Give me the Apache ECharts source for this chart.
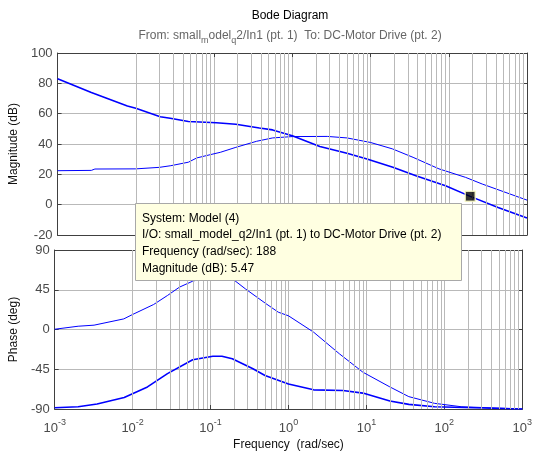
<!DOCTYPE html>
<html>
<head>
<meta charset="utf-8">
<script src="https://cdn.jsdelivr.net/npm/echarts@6/dist/echarts.min.js"></script>
<style>html,body{margin:0;padding:0;background:#fff;}#c{width:535px;height:454px;}</style>
</head>
<body>
<div id="c"></div>
<script>
// ---- data ----
const magFreqA = [0.001,0.0027,0.0078,0.01,0.0205,0.0275,0.047,0.107,0.11,0.19,0.38,0.56,1.0,2.25,5,9,19.3,38,91,188,427,1000];
const magValsA = [83,74,65,63.6,58,57,54.8,54,53.2,53,50.6,49.3,45.5,38.3,33.9,30.1,24.6,19.1,12.5,5.47,-1.8,-8.8];

const magFreqB = [0.001,0.0027,0.003,0.01,0.02,0.028,0.047,0.06,0.09,0.12,0.19,0.35,0.56,1.0,2.8,5,10,19,35,75,164,268,1000];
const magValsB = [22.4,22.6,23.5,23.6,24.6,25.7,28,30.8,33,34.5,37.8,41.8,44,44.9,45,44,41,36.8,31.2,23.6,18,13.6,3];

const phFreqA = [0.001,0.002,0.0032,0.0077,0.01,0.0186,0.028,0.04,0.059,0.1,0.2,0.28,0.5,0.74,1.0,2.1,4.5,9,20,35,75,164,1000];
const phValsA = [0.3,3.7,4.9,12,17,28.3,38.5,48,54.7,60,56,46,30,19.6,15.5,-3,-27.5,-48.3,-65,-76,-83.6,-87.4,-90];

const phFreqB = [0.001,0.002,0.0035,0.0078,0.0155,0.028,0.059,0.107,0.14,0.19,0.35,0.5,1.0,2.1,5,9,20,35,75,1000];
const phValsB = [-88.6,-87.4,-84.4,-76.9,-65,-50,-34.3,-30.2,-30.2,-33.2,-44.5,-52,-61.6,-68.3,-69,-72,-81,-84.8,-87.4,-90];

const markerFreq = [188];
const markerMag = [5.47];

const magTicks = [-20, 0, 20, 40, 60, 80, 100];
const phaseTicks = [-90, -45, 0, 45, 90];
const decades = [-3, -2, -1, 0, 1, 2, 3];

const titleText = 'Bode Diagram';
const subtitleText = 'From: small{sub|m}odel{sub|q}2/In1 (pt. 1)  To: DC-Motor Drive (pt. 2)';
const tipLines = ['System: Model (4)', 'I/O: small_model_q2/In1 (pt. 1) to DC-Motor Drive (pt. 2)', 'Frequency (rad/sec): 188', 'Magnitude (dB): 5.47'];

// ---- build ----
const zip = (a, b) => a.map((v, i) => [v, b[i]]);
const minorFreqs = [];
for (let n = decades[0]; n < decades[decades.length - 1]; n++) {
  for (let k = 2; k <= 9; k++) minorFreqs.push(k * Math.pow(10, n));
}
const GRID = '#b9b9b9';
const FRAME = '#404040';
const TICKC = '#4a4a4a';
const FONT = 'Liberation Sans, Arial, sans-serif';

function xAx(gi, pos, showLabel) {
  return {
    type: 'log', logBase: 10, gridIndex: gi, position: pos,
    min: Math.pow(10, decades[0]), max: Math.pow(10, decades[decades.length - 1]),
    axisLine: {show: true, onZero: false, lineStyle: {color: FRAME, width: 1}},
    axisTick: {show: true, inside: true, length: 4, lineStyle: {color: FRAME}},
    splitLine: {show: pos === 'bottom', lineStyle: {color: GRID, width: 1}},
    minorTick: {show: false},
    axisLabel: {
      show: showLabel, color: TICKC, margin: 6,
      formatter: v => '{b|10}{s|' + Math.round(Math.log10(v)) + '}',
      rich: {
        b: {fontSize: 13, fontFamily: FONT, color: TICKC, padding: [7, 0, 0, 0]},
        s: {fontSize: 9, fontFamily: FONT, color: TICKC, padding: [0, 0, 5, 0]}
      }
    },
    name: showLabel ? 'Frequency  (rad/sec)' : '',
    nameLocation: 'middle', nameGap: 30,
    nameTextStyle: {color: '#111', fontSize: 12, fontFamily: FONT}
  };
}
function yAx(gi, pos, ticks, interval, name) {
  return {
    type: 'value', gridIndex: gi, position: pos,
    min: ticks[0], max: ticks[ticks.length - 1], interval: interval,
    axisLine: {show: true, onZero: false, lineStyle: {color: FRAME, width: 1}},
    axisTick: {show: true, inside: true, length: 4, lineStyle: {color: FRAME}},
    splitLine: {show: pos === 'left', lineStyle: {color: GRID, width: 1}},
    axisLabel: {show: pos === 'left', color: TICKC, fontSize: 13, fontFamily: FONT, margin: 5},
    name: pos === 'left' ? name : '',
    nameLocation: 'middle', nameGap: 33, nameRotate: 90,
    nameTextStyle: {color: '#111', fontSize: 12, fontFamily: FONT}
  };
}
function minorSeries(xi, yi) {
  return {
    type: 'line', xAxisIndex: xi, yAxisIndex: yi, data: [], silent: true, z: 1,
    markLine: {
      silent: true, symbol: ['none', 'none'], label: {show: false},
      lineStyle: {color: GRID, width: 1, type: 'solid'},
      animation: false,
      data: minorFreqs.map(f => ({xAxis: f}))
    }
  };
}
function curve(xi, yi, fr, vals, w) {
  return {
    type: 'line', xAxisIndex: xi, yAxisIndex: yi, data: zip(fr, vals),
    showSymbol: false, symbol: 'none', z: 3, silent: true,
    lineStyle: {color: '#0000ff', width: w}
  };
}

const chart = echarts.init(document.getElementById('c'), null, {renderer: 'canvas'});
chart.setOption({
  animation: false,
  backgroundColor: '#ffffff',
  grid: [
    {left: 53, right: 8, top: 53, height: 182},
    {left: 53, right: 8, top: 250, height: 159}
  ],
  xAxis: [xAx(0, 'bottom', false), xAx(0, 'top', false), xAx(1, 'bottom', true), xAx(1, 'top', false)],
  yAxis: [yAx(0, 'left', magTicks, 20, 'Magnitude (dB)'), yAx(0, 'right', magTicks, 20, ''),
          yAx(1, 'left', phaseTicks, 45, 'Phase (deg)'), yAx(1, 'right', phaseTicks, 45, '')],
  series: [
    minorSeries(0, 0),
    minorSeries(2, 2),
    curve(0, 0, magFreqA, magValsA, 1.6),
    curve(0, 0, magFreqB, magValsB, 1),
    curve(2, 2, phFreqA, phValsA, 1),
    curve(2, 2, phFreqB, phValsB, 1.6),
    {
      type: 'scatter', xAxisIndex: 0, yAxisIndex: 0, data: zip(markerFreq, markerMag),
      symbol: 'rect', symbolSize: 10, z: 5, silent: true,
      itemStyle: {color: '#000000', borderColor: '#ffffc8', borderWidth: 1.5}
    }
  ],
  graphic: [
    {type: 'text', x: 290, y: 16, z: 10, style: {text: titleText, fill: '#000', font: '12px ' + FONT, align: 'center', verticalAlign: 'middle'}},
    {type: 'text', x: 290, y: 36, z: 10, style: {
      text: subtitleText, fill: '#666', font: '12px ' + FONT, align: 'center', verticalAlign: 'middle',
      rich: {sub: {fontSize: 9, fontFamily: FONT, fill: '#666', padding: [9, 0, 0, 0]}}
    }},
    {type: 'rect', z: 20, shape: {x: 135.5, y: 203.5, width: 326, height: 77},
     style: {fill: '#ffffe1', stroke: '#a8a8a8', lineWidth: 1}},
    {type: 'text', x: 142, y: 210, z: 21, style: {
      text: tipLines.join('\n'), fill: '#000', font: '12px ' + FONT, lineHeight: 16.7, align: 'left', verticalAlign: 'top'
    }}
  ]
});
</script>
</body>
</html>
